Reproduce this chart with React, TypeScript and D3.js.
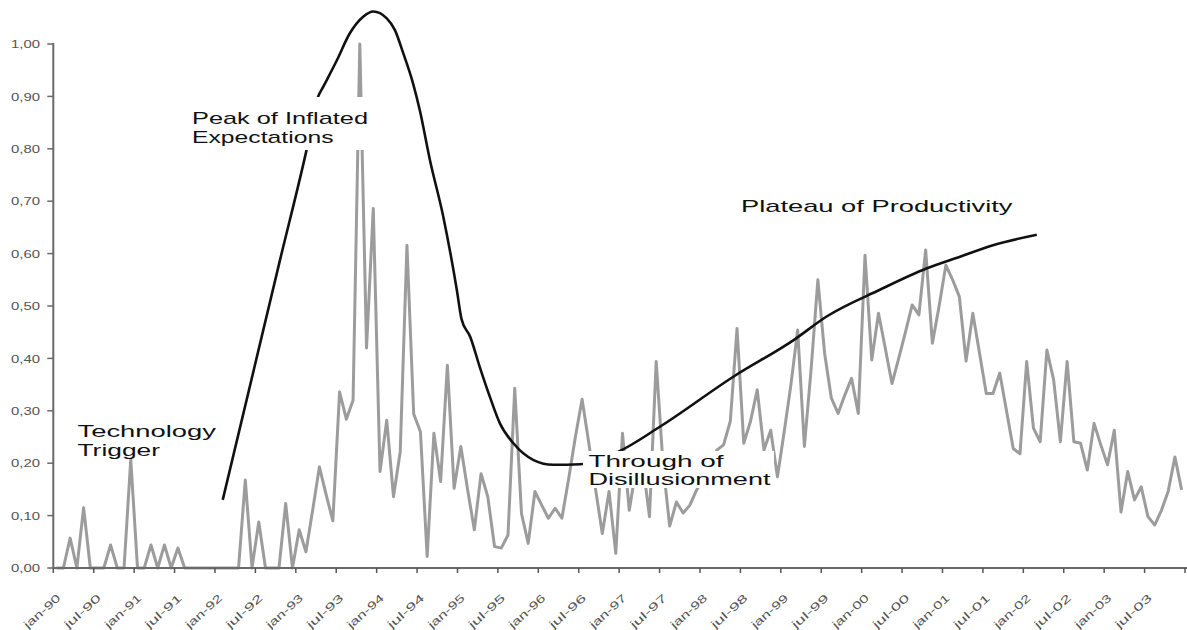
import React from "react";
import * as d3 from "d3";

// ---- data ----
const xTickLabels = [
  "jan-90", "jul-90", "jan-91", "jul-91", "jan-92", "jul-92", "jan-93", "jul-93",
  "jan-94", "jul-94", "jan-95", "jul-95", "jan-96", "jul-96", "jan-97", "jul-97",
  "jan-98", "jul-98", "jan-99", "jul-99", "jan-00", "jul-00", "jan-01", "jul-01",
  "jan-02", "jul-02", "jan-03", "jul-03",
];
const yTicks = [0, 0.1, 0.2, 0.3, 0.4, 0.5, 0.6, 0.7, 0.8, 0.9, 1.0];

// monthly series, jan-90 .. dec-03
const interest = [
  // 1990
  0, 0, 0.057, 0, 0.115, 0, 0, 0, 0.044, 0, 0, 0.207,
  // 1991
  0, 0, 0.044, 0, 0.044, 0, 0.038, 0, 0, 0, 0, 0,
  // 1992
  0, 0, 0, 0, 0.168, 0, 0.088, 0, 0, 0, 0.123, 0,
  // 1993
  0.073, 0.031, 0.11, 0.193, 0.14, 0.09, 0.336, 0.284, 0.32, 1.0, 0.42, 0.686,
  // 1994
  0.184, 0.282, 0.136, 0.222, 0.616, 0.294, 0.26, 0.022, 0.257, 0.165, 0.387, 0.152,
  // 1995
  0.232, 0.15, 0.073, 0.18, 0.136, 0.041, 0.038, 0.063, 0.343, 0.104, 0.047, 0.146,
  // 1996
  0.12, 0.095, 0.114, 0.095, 0.17, 0.25, 0.322, 0.238, 0.15, 0.066, 0.146, 0.028,
  // 1997
  0.257, 0.11, 0.19, 0.2, 0.098, 0.394, 0.2, 0.08, 0.126, 0.105, 0.12, 0.149,
  // 1998
  0.17, 0.2, 0.225, 0.235, 0.28, 0.457, 0.238, 0.28, 0.34, 0.225, 0.263, 0.174,
  // 1999
  0.26, 0.35, 0.454, 0.232, 0.38, 0.55, 0.41, 0.324, 0.295, 0.33, 0.362, 0.295,
  // 2000
  0.597, 0.397, 0.486, 0.42, 0.352, 0.4, 0.45, 0.502, 0.483, 0.607, 0.429, 0.5,
  // 2001
  0.578, 0.55, 0.518, 0.395, 0.486, 0.41, 0.333, 0.333, 0.372, 0.3, 0.228, 0.218,
  // 2002
  0.394, 0.267, 0.241, 0.416, 0.359, 0.241, 0.394, 0.241, 0.238, 0.187, 0.276, 0.235,
  // 2003
  0.197, 0.263, 0.107, 0.184, 0.13, 0.155, 0.098, 0.082, 0.11, 0.146, 0.212, 0.149,
];

// hype-cycle curve: position in months from jan-90, and level
const hypeMonth = [
  25.15, 33.66, 37.6, 39.3, 40.1, 42.1, 44.0, 46.0, 47.5, 49.5, 50.7, 51.96, 53.4,
  54.4, 55.9, 57.9, 59.9, 60.6, 61.9, 63.3, 64.8, 66.3, 68.3, 71.3, 74.2, 78.2,
  83.9, 90.1, 100.95, 109.9, 114.8, 122.7, 129.7, 134.6, 139.5, 146.0,
];
const hypeValue = [
  0.13, 0.588, 0.798, 0.899, 0.919, 0.969, 1.02, 1.052, 1.062, 1.049, 1.027, 0.982, 0.925,
  0.874, 0.779, 0.67, 0.531, 0.475, 0.441, 0.384, 0.327, 0.276, 0.238, 0.206, 0.197, 0.198,
  0.222, 0.27, 0.365, 0.435, 0.48, 0.531, 0.572, 0.594, 0.616, 0.636,
];

const annotations = [
  { lines: ["Technology", "Trigger"], x: 77.5, y: 437, widths: [138.5, 82.5], box: null },
  { lines: ["Peak of Inflated", "Expectations"], x: 192, y: 124, widths: [176, 141.5], box: [188, 97, 182, 53] },
  { lines: ["Through of", "Disillusionment"], x: 588.5, y: 466.5, widths: [135, 182], box: [583, 451, 191, 37] },
  { lines: ["Plateau of Productivity"], x: 741, y: 211.5, widths: [271.5], box: null },
];

const FONT = "'Liberation Sans', Arial, Helvetica, sans-serif";

export default function App() {
  const W = 1187;
  const H = 630;
  const x = d3.scaleLinear().domain([0, 168]).range([53.3, 1185]);
  const y = d3.scaleLinear().domain([0, 1]).range([568, 44]);

  const grayLine = d3
    .line<number>()
    .x((_, i) => x(i + 0.5))
    .y((d) => y(d))(interest) as string;

  const hypePts = hypeMonth.map((m, i) => [m, hypeValue[i]] as [number, number]);
  const hypeLine = d3
    .line<[number, number]>()
    .x((d) => x(d[0]))
    .y((d) => y(d[1]))
    .curve(d3.curveMonotoneX)(hypePts) as string;

  const xTicks = d3.range(0, 169, 6);
  const fmt = (v: number) => d3.format(".2f")(v).replace(".", ",");

  return (
    <svg
      width={W}
      height={H}
      style={{ position: "absolute", left: 0, top: 0, background: "#fff" }}
      fontFamily={FONT}
    >
      <rect x={0} y={0} width={W} height={H} fill="#fff" />
      {/* data series */}
      <path d={grayLine} fill="none" stroke="#9c9c9c" strokeWidth={3} strokeLinejoin="round" />
      {/* hype curve */}
      <path d={hypeLine} fill="none" stroke="#111" strokeWidth={2.6} strokeLinecap="butt" />

      {/* axes */}
      <line x1={x(0)} x2={x(168) + 2} y1={y(0)} y2={y(0)} stroke="#6a6a6a" strokeWidth={2} />
      <line x1={x(0)} x2={x(0)} y1={y(1) - 1} y2={y(0)} stroke="#6a6a6a" strokeWidth={2} />
      {yTicks.map((v) => (
        <g key={"y" + v}>
          <line x1={x(0) - 6} x2={x(0)} y1={y(v)} y2={y(v)} stroke="#6a6a6a" strokeWidth={1.5} />
          <text
            x={40}
            y={y(v) + 4.2}
            textAnchor="end"
            fontSize={11.5}
            fill="#555"
            textLength={29}
            lengthAdjust="spacingAndGlyphs"
          >
            {fmt(v)}
          </text>
        </g>
      ))}
      {xTicks.map((t) => (
        <line key={"xt" + t} x1={x(t)} x2={x(t)} y1={y(0)} y2={y(0) + 5} stroke="#555" strokeWidth={1.5} />
      ))}
      {xTickLabels.map((lab, k) => {
        const tx = x(k * 6);
        return (
          <text
            key={lab}
            transform={`translate(${tx + 8},${599}) rotate(-42)`}
            textAnchor="end"
            fontSize={11}
            fill="#555"
            textLength={45}
            lengthAdjust="spacingAndGlyphs"
          >
            {lab}
          </text>
        );
      })}

      {/* annotations */}
      {annotations.map((a, k) => (
        <g key={"a" + k}>
          {a.box && <rect x={a.box[0]} y={a.box[1]} width={a.box[2]} height={a.box[3]} fill="#fff" />}
          {a.lines.map((ln, j) => (
            <text
              key={ln}
              x={a.x}
              y={a.y + j * 18.5}
              fontSize={17}
              fill="#111"
              textLength={a.widths[j]}
              lengthAdjust="spacingAndGlyphs"
            >
              {ln}
            </text>
          ))}
        </g>
      ))}
    </svg>
  );
}
